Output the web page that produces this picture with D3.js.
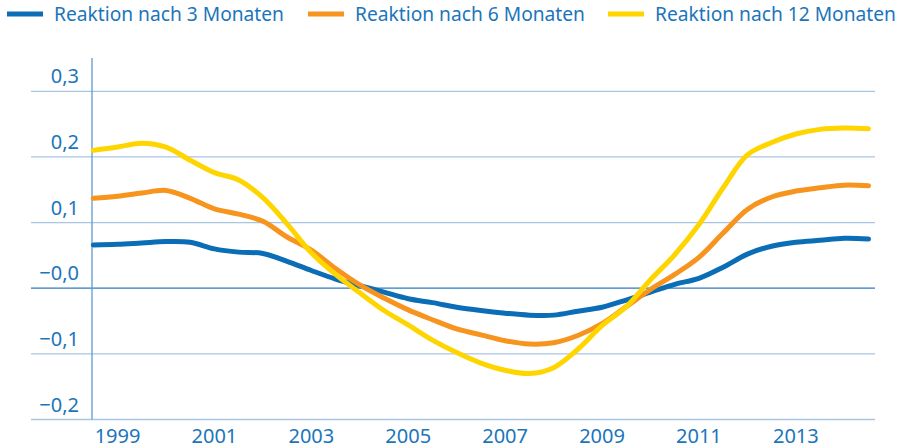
<!DOCTYPE html>
<html>
<head>
<meta charset="utf-8">
<script src="https://cdn.jsdelivr.net/npm/d3@7"></script>
<style>
  body { margin: 0; background: #fff; }
  svg { display: block; font-family: "Noto Sans", sans-serif; }
</style>
</head>
<body>
<div id="chart"></div>
<script>
// half-year steps, Jan 1999 .. Jan 2015
const years = d3.range(0, 33).map(i => 1999 + i * 0.5);

const reaktion3 = [0.066, 0.067, 0.069, 0.071, 0.070, 0.060, 0.055, 0.053, 0.041, 0.027,
  0.014, 0.004, -0.006, -0.016, -0.022, -0.029, -0.034, -0.038, -0.041, -0.041,
  -0.035, -0.029, -0.018, -0.006, 0.006, 0.015, 0.032, 0.052, 0.064, 0.070,
  0.073, 0.076, 0.075];

const reaktion6 = [0.137, 0.140, 0.145, 0.149, 0.137, 0.121, 0.113, 0.102, 0.078, 0.058,
  0.030, 0.005, -0.015, -0.033, -0.048, -0.062, -0.071, -0.080, -0.085, -0.083,
  -0.072, -0.054, -0.028, -0.002, 0.021, 0.047, 0.084, 0.120, 0.139, 0.148,
  0.153, 0.157, 0.156];

const reaktion12 = [0.210, 0.215, 0.221, 0.215, 0.195, 0.176, 0.165, 0.138, 0.098, 0.054,
  0.021, -0.007, -0.034, -0.056, -0.079, -0.098, -0.114, -0.125, -0.130, -0.121,
  -0.093, -0.057, -0.028, 0.013, 0.051, 0.097, 0.153, 0.203, 0.222, 0.235,
  0.242, 0.244, 0.243];

const seriesNames = ["Reaktion nach 3 Monaten", "Reaktion nach 6 Monaten", "Reaktion nach 12 Monaten"];
const seriesColors = ["#0a6db6", "#f7941d", "#ffd500"];
const yTicks = [-0.2, -0.1, 0, 0.1, 0.2, 0.3];
const yTickLabels = ["\u22120,2", "\u22120,1", "\u22120,0", "0,1", "0,2", "0,3"];
const xTicks = [1999, 2001, 2003, 2005, 2007, 2009, 2011, 2013];

const width = 905, height = 448;
const textColor = "#1b75bb";

const svg = d3.select("#chart").append("svg")
    .attr("width", width)
    .attr("height", height);

const x = d3.scaleLinear()
    .domain([1999, 2015])
    .range([93.3, 868.5]);

const y = d3.scaleLinear()
    .domain([-0.2, 0.3])
    .range([419.5, 91.3]);

// grid lines
svg.append("g")
  .selectAll("line")
  .data(yTicks)
  .join("line")
    .attr("x1", 31)
    .attr("x2", 875)
    .attr("y1", d => y(d))
    .attr("y2", d => y(d))
    .attr("stroke", d => d === 0 ? "#2b7cc4" : "#a9c5e4")
    .attr("stroke-width", 1.3);

// y axis line
svg.append("line")
    .attr("x1", 92).attr("x2", 92)
    .attr("y1", 58).attr("y2", y(-0.2))
    .attr("stroke", "#5a9bd3")
    .attr("stroke-width", 1.3);

// y labels
svg.append("g")
    .attr("text-anchor", "end")
    .style("font-size", "20px")
    .attr("fill", textColor)
  .selectAll("text")
  .data(yTicks)
  .join("text")
    .attr("x", 79)
    .attr("y", d => y(d) - 8)
    .text((d, i) => yTickLabels[i]);

// x labels, centred in the middle of the year
svg.append("g")
    .attr("text-anchor", "middle")
    .style("font-size", "20px")
    .attr("fill", textColor)
  .selectAll("text")
  .data(xTicks)
  .join("text")
    .attr("x", d => x(d + 0.5))
    .attr("y", 443)
    .text(d => d);

const line = d3.line()
    .x((d, i) => x(years[i]))
    .y(d => y(d))
    .curve(d3.curveCatmullRom);

// blue, orange, then yellow on top
const allSeries = [reaktion3, reaktion6, reaktion12];
svg.append("g")
  .selectAll("path")
  .data(allSeries)
  .join("path")
    .attr("d", line)
    .attr("fill", "none")
    .attr("stroke", (d, i) => seriesColors[i])
    .attr("stroke-width", 5)
    .attr("stroke-linecap", "round")
    .attr("stroke-linejoin", "round");

// legend
const legendX = [7, 308, 608];
const legend = svg.append("g")
  .selectAll("g")
  .data(seriesNames)
  .join("g")
    .attr("transform", (d, i) => `translate(${legendX[i]},0)`);

legend.append("line")
    .attr("x1", 0).attr("x2", 36)
    .attr("y1", 14).attr("y2", 14)
    .attr("stroke", (d, i) => seriesColors[i])
    .attr("stroke-width", 5);

legend.append("text")
    .attr("x", 47)
    .attr("y", 21)
    .style("font-size", "19.2px")
    .attr("fill", textColor)
    .text(d => d);
</script>
</body>
</html>
